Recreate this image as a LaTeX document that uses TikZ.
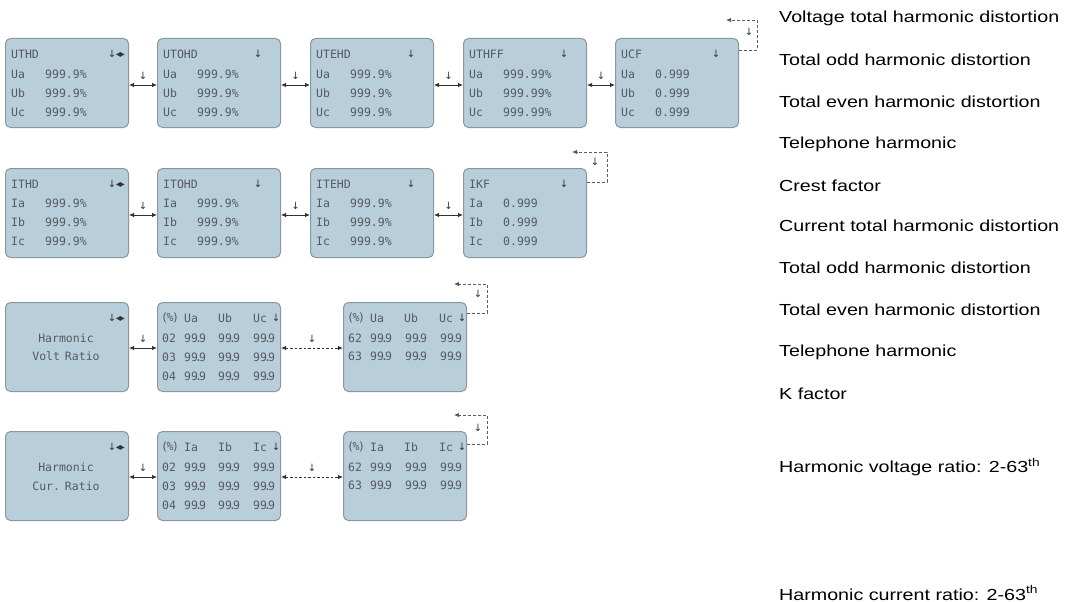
\documentclass[tikz,border=0pt]{standalone}
\usepackage{fontspec}
\setmainfont{Liberation Sans}
\newfontfamily\lcdfont{DejaVu Sans Mono}
\newfontfamily\symfont{DejaVu Sans}
\usetikzlibrary{arrows.meta}
\definecolor{boxfill}{HTML}{B9CEDB}
\definecolor{boxline}{HTML}{8A979F}
\definecolor{lcdtext}{HTML}{555A5F}
\definecolor{linec}{HTML}{333333}
\newcommand\dn{{\symfont ↓}}
\newcommand\dnlr{{\symfont ↓\kern-0.5pt◂\kern-1pt▸}}
\newcommand\nn{99\kern-0.25em.\kern-0.25em9}
\begin{document}
\begin{tikzpicture}[x=1pt,y=-1pt,
  lcd/.style={draw=boxline, fill=boxfill, rounded corners=5pt, line width=1pt,
    minimum width=123pt, minimum height=89pt, inner sep=0pt, anchor=north west},
  txt/.style={font=\lcdfont\fontsize{11.5}{12}\selectfont, text=lcdtext, inner sep=0pt, anchor=west},
  sym/.style={font=\fontsize{10}{11}\selectfont, text=linec, inner sep=0pt},
  conn/.style={draw=linec, line width=0.8pt, {Latex[length=5pt,width=4.5pt]}-{Latex[length=5pt,width=4.5pt]}},
  dconn/.style={conn, dash pattern=on 2.5pt off 2pt},
  fbk/.style={draw=linec!80, line width=0.8pt, dash pattern=on 3pt off 2pt, -{Latex[length=5pt,width=4.5pt]}},
  lab/.style={sym, above=5pt, midway},
  desc/.style={anchor=west, inner sep=0pt, text=black, font=\fontsize{16}{18}\selectfont}
]
\useasboundingbox (0,0) rectangle (1066,602);

% ---------- generic text helpers
\newcommand\ttl[3]{\node[txt] at (#1+6,#2+16) {#3};}
\newcommand\row[5]{\node[txt] at (#1+6,#2+#3) {#4}; \node[txt] at (#1+40,#2+#3) {#5};}
\newcommand\sdn[2]{\node[sym] at (#1+101,#2+16) {\dn};}
\newcommand\slr[2]{\node[sym, anchor=east] at (#1+120,#2+16) {\dnlr};}

% ---------- Row 1 : voltage
\node[lcd] (u1) at (5,38) {};
\node[lcd] (u2) at (157,38) {};
\node[lcd] (u3) at (310,38) {};
\node[lcd] (u4) at (463,38) {};
\node[lcd] (u5) at (615,38) {};
\ttl{5}{38}{UTHD}\slr{5}{38}
\row{5}{38}{36}{Ua}{999.9\%}\row{5}{38}{55}{Ub}{999.9\%}\row{5}{38}{74}{Uc}{999.9\%}
\ttl{157}{38}{UTOHD}\sdn{157}{38}
\row{157}{38}{36}{Ua}{999.9\%}\row{157}{38}{55}{Ub}{999.9\%}\row{157}{38}{74}{Uc}{999.9\%}
\ttl{310}{38}{UTEHD}\sdn{310}{38}
\row{310}{38}{36}{Ua}{999.9\%}\row{310}{38}{55}{Ub}{999.9\%}\row{310}{38}{74}{Uc}{999.9\%}
\ttl{463}{38}{UTHFF}\sdn{463}{38}
\row{463}{38}{36}{Ua}{999.99\%}\row{463}{38}{55}{Ub}{999.99\%}\row{463}{38}{74}{Uc}{999.99\%}
\ttl{615}{38}{UCF}\sdn{615}{38}
\row{615}{38}{36}{Ua}{0.999}\row{615}{38}{55}{Ub}{0.999}\row{615}{38}{74}{Uc}{0.999}

\draw[conn] ([yshift=-2pt]u1.east) -- node[lab]{\dn} ([yshift=-2pt]u2.west);
\draw[conn] ([yshift=-2pt]u2.east) -- node[lab]{\dn} ([yshift=-2pt]u3.west);
\draw[conn] ([yshift=-2pt]u3.east) -- node[lab]{\dn} ([yshift=-2pt]u4.west);
\draw[conn] ([yshift=-2pt]u4.east) -- node[lab]{\dn} ([yshift=-2pt]u5.west);
\coordinate (f1) at (726,20);
\draw[fbk] ([yshift=-12pt]u5.north east) -- ++(18,0) |- (f1);
\node[sym] (l1) at (749,32) {\dn};

% ---------- Row 2 : current
\node[lcd] (i1) at (5,168) {};
\node[lcd] (i2) at (157,168) {};
\node[lcd] (i3) at (310,168) {};
\node[lcd] (i4) at (463,168) {};
\ttl{5}{168}{ITHD}\slr{5}{168}
\row{5}{168}{35}{Ia}{999.9\%}\row{5}{168}{54}{Ib}{999.9\%}\row{5}{168}{73}{Ic}{999.9\%}
\ttl{157}{168}{ITOHD}\sdn{157}{168}
\row{157}{168}{35}{Ia}{999.9\%}\row{157}{168}{54}{Ib}{999.9\%}\row{157}{168}{73}{Ic}{999.9\%}
\ttl{310}{168}{ITEHD}\sdn{310}{168}
\row{310}{168}{35}{Ia}{999.9\%}\row{310}{168}{54}{Ib}{999.9\%}\row{310}{168}{73}{Ic}{999.9\%}
\ttl{463}{168}{IKF}\sdn{463}{168}
\row{463}{168}{35}{Ia}{0.999}\row{463}{168}{54}{Ib}{0.999}\row{463}{168}{73}{Ic}{0.999}

\draw[conn] ([yshift=-2pt]i1.east) -- node[lab]{\dn} ([yshift=-2pt]i2.west);
\draw[conn] ([yshift=-2pt]i2.east) -- node[lab]{\dn} ([yshift=-2pt]i3.west);
\draw[conn] ([yshift=-2pt]i3.east) -- node[lab]{\dn} ([yshift=-2pt]i4.west);
\coordinate (f2) at (572,152);
\draw[fbk] ([yshift=-14pt]i4.north east) -- ++(20,0) |- (f2);
\node[sym] (l2) at (595,162) {\dn};

% ---------- Row 3 : harmonic voltage ratio
\node[lcd] (hv1) at (5,302) {};
\node[lcd] (hv2) at (157,302) {};
\node[lcd] (hv3) at (343,302) {};
\slr{5}{302}
\node[txt, anchor=center] at (66,338) {Harmonic};
\node[txt, anchor=center] at (66,356) {Volt\kern-2pt\ Ratio};
\foreach \bx in {157,343}{
  \node[txt] at (\bx+5,318) {\kern-1pt(\kern-1.5pt\%\kern-1.5pt)};
  \node[txt] at (\bx+27,318) {Ua};
  \node[txt] at (\bx+61,318) {Ub};
  \node[txt] at (\bx+96,318) {Uc};
  \node[sym] at (\bx+119,318) {\dn};
}
\foreach \n/\yy in {02/338,03/357,04/376}{
  \node[txt] at (162,\yy) {\n};
  \foreach \cx in {184,218,253}{\node[txt] at (\cx,\yy) {\nn};}
}
\foreach \n/\yy in {62/338,63/356}{
  \node[txt] at (348,\yy) {\n};
  \foreach \cx in {370,405,440}{\node[txt] at (\cx,\yy) {\nn};}
}
\draw[conn] ([yshift=-1pt]hv1.east) -- node[lab]{\dn} ([yshift=-1pt]hv2.west);
\draw[dconn] ([yshift=-1pt]hv2.east) -- node[lab]{\dn} ([yshift=-1pt]hv3.west);
\coordinate (f3) at (454,284);
\draw[fbk] ([yshift=-11pt]hv3.north east) -- ++(20,0) |- (f3);
\node[sym] (l3) at (478,294) {\dn};

% ---------- Row 4 : harmonic current ratio
\node[lcd] (hc1) at (5,431) {};
\node[lcd] (hc2) at (157,431) {};
\node[lcd] (hc3) at (343,431) {};
\slr{5}{431}
\node[txt, anchor=center] at (66,467) {Harmonic};
\node[txt, anchor=center] at (66,486) {Cur.\kern-2pt\ Ratio};
\foreach \bx in {157,343}{
  \node[txt] at (\bx+5,447) {\kern-1pt(\kern-1.5pt\%\kern-1.5pt)};
  \node[txt] at (\bx+27,447) {Ia};
  \node[txt] at (\bx+61,447) {Ib};
  \node[txt] at (\bx+96,447) {Ic};
  \node[sym] at (\bx+119,447) {\dn};
}
\foreach \n/\yy in {02/467,03/486,04/505}{
  \node[txt] at (162,\yy) {\n};
  \foreach \cx in {184,218,253}{\node[txt] at (\cx,\yy) {\nn};}
}
\foreach \n/\yy in {62/467,63/485}{
  \node[txt] at (348,\yy) {\n};
  \foreach \cx in {370,405,440}{\node[txt] at (\cx,\yy) {\nn};}
}
\draw[conn] ([yshift=-1pt]hc1.east) -- node[lab]{\dn} ([yshift=-1pt]hc2.west);
\draw[dconn] ([yshift=-1pt]hc2.east) -- node[lab]{\dn} ([yshift=-1pt]hc3.west);
\coordinate (f4) at (454,415);
\draw[fbk] ([yshift=-13pt]hc3.north east) -- ++(20,0) |- (f4);
\node[sym] (l4) at (478,428) {\dn};

% ---------- descriptions
\newcommand\wide[1]{\scalebox{1.23}[1]{#1}}
\node[desc] (d1) at (779,18) {\wide{Voltage total harmonic distortion}};
\node[desc] (d2) at (779,60) {\wide{Total odd harmonic distortion}};
\node[desc] (d3) at (779,102) {\wide{Total even harmonic distortion}};
\node[desc] (d4) at (779,144) {\wide{Telephone harmonic}};
\node[desc] (d5) at (779,186) {\wide{Crest factor}};
\node[desc] (d6) at (779,226) {\wide{Current total harmonic distortion}};
\node[desc] (d7) at (779,268) {\wide{Total odd harmonic distortion}};
\node[desc] (d8) at (779,310) {\wide{Total even harmonic distortion}};
\node[desc] (d9) at (779,352) {\wide{Telephone harmonic}};
\node[desc] (d10) at (779,394) {\wide{K factor}};
\node[desc] (d11) at (779,467) {\wide{Harmonic voltage ratio: 2-63\textsuperscript{th}}};
\node[desc] (d12) at (779,593) {\wide{Harmonic current ratio: 2-63\textsuperscript{th}}};
\end{tikzpicture}
\end{document}
